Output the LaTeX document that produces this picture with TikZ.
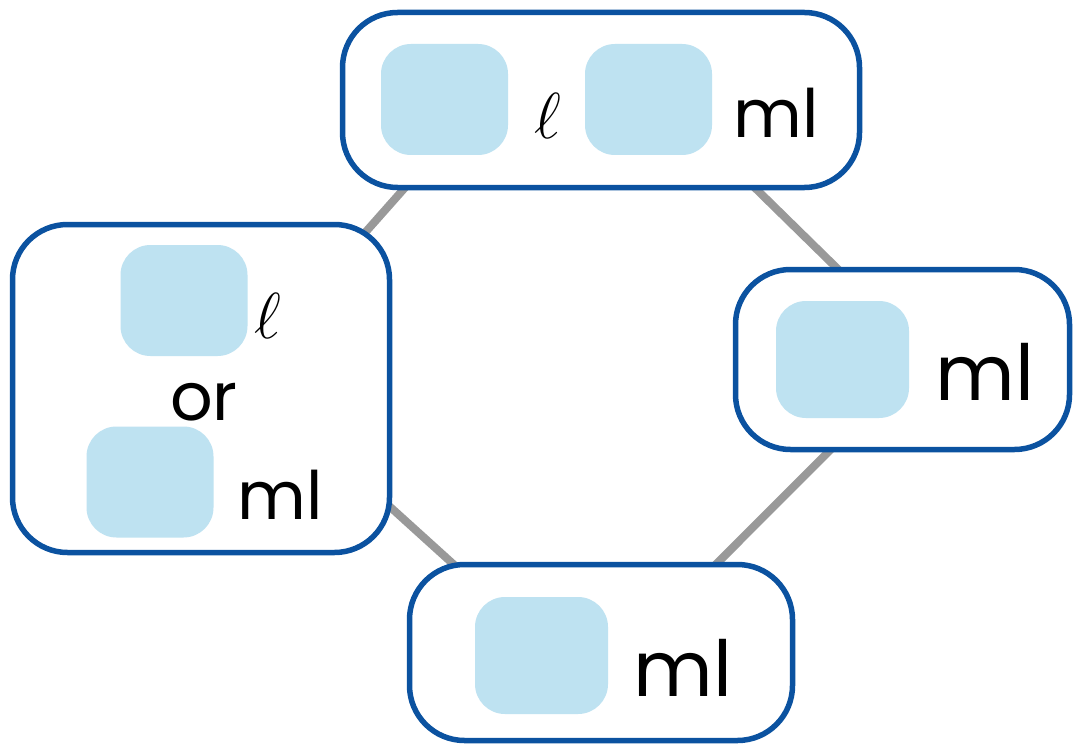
\documentclass[tikz,border=0pt]{standalone}
\usepackage{fix-cm}
\usepackage{fontspec}
\setmainfont{Poppins}
\usetikzlibrary{backgrounds}

\definecolor{boxblue}{HTML}{0B52A0}
\definecolor{cellblue}{HTML}{BEE2F1}
\definecolor{linkgray}{HTML}{999999}

\begin{document}
\begin{tikzpicture}[
    frame/.style={draw=boxblue, line width=1.1mm, rounded corners=1.1cm, fill=white, inner sep=0pt},
    cell/.style={fill=cellblue, rounded corners=0.6cm, minimum width=2.54cm, minimum height=2.22cm, inner sep=0pt},
    bigcell/.style={cell, minimum width=2.66cm, minimum height=2.34cm},
    word/.style={anchor=base, inner sep=0pt, font=\fontsize{38}{44}\selectfont},
    bigword/.style={word, font=\fontsize{44}{50}\selectfont},
    ell/.style={anchor=base, inner sep=0pt, font=\fontsize{37}{40}\selectfont},
    link/.style={draw=linkgray, line width=1.6mm}]

    \useasboundingbox (0,0) rectangle (21.46,15);

    % draw frames
    \node[frame, minimum width=10.34cm, minimum height=3.5cm] (top) at (12.02,13.0) {};
    \node[frame, minimum width=7.54cm, minimum height=6.56cm] (left) at (4.02,7.23) {};
    \node[frame, minimum width=6.68cm, minimum height=3.6cm] (right) at (18.05,7.81) {};
    \node[frame, minimum width=7.66cm, minimum height=3.52cm] (bottom) at (12.02,1.95) {};

    % draw links behind the frames
    \begin{scope}[on background layer]
      \draw[link] ([shift={(-2.42,-0.06)}]top.center) -- ([shift={(2.38,2.1)}]left.center);
      \draw[link] ([shift={(1.98,-0.68)}]top.center) -- ([shift={(-0.06,0.6)}]right.center);
      \draw[link] ([shift={(-0.05,-0.41)}]right.center) -- ([shift={(0.98,0.44)}]bottom.center);
      \draw[link] ([shift={(2.58,-1.28)}]left.center) -- ([shift={(-1.62,0.56)}]bottom.center);
    \end{scope}

    % draw cells
    \node[cell] (topA) at (8.89,13.01) {};
    \node[cell] (topB) at (12.97,13.01) {};
    \node[cell] (leftA) at (3.68,8.99) {};
    \node[cell] (leftB) at (3.0,5.36) {};
    \node[bigcell] (rightA) at (16.85,7.81) {};
    \node[bigcell] (bottomA) at (10.83,1.89) {};

    % draw labels
    \node[ell] (topEll) at (10.96,12.22) {$\ell$};
    \node[word] (topMl) at (15.52,12.24) {ml};
    \node[ell] (leftEll) at (5.36,8.24) {$\ell$};
    \node[word] (leftOr) at (4.08,6.6) {or};
    \node[word] (leftMl) at (5.6,4.62) {ml};
    \node[bigword] (rightMl) at (19.7,7.0) {ml};
    \node[bigword] (bottomMl) at (13.66,1.08) {ml};
\end{tikzpicture}
\end{document}
